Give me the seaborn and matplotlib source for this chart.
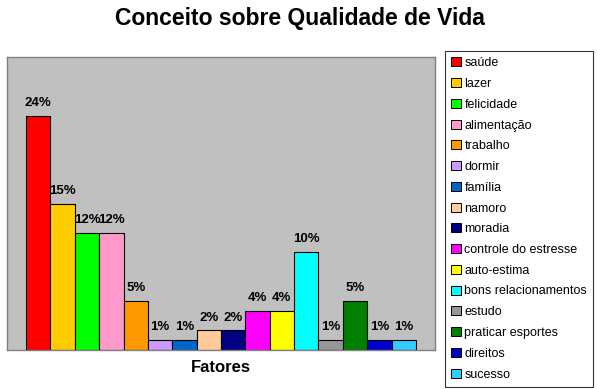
import matplotlib
matplotlib.use("Agg")
import matplotlib.pyplot as plt
from matplotlib.patches import Patch
import seaborn as sns
import pandas as pd

fatores = ["saúde", "lazer", "felicidade", "alimentação", "trabalho", "dormir",
           "família", "namoro", "moradia", "controle do estresse", "auto-estima",
           "bons relacionamentos", "estudo", "praticar esportes", "direitos", "sucesso"]
valores = [24, 15, 12, 12, 5, 1, 1, 2, 2, 4, 4, 10, 1, 5, 1, 1]
cores = ["#FF0000", "#FFCC00", "#00FF00", "#FF99CC", "#FF9900", "#CC99FF",
         "#0066CC", "#FFCC99", "#000080", "#FF00FF", "#FFFF00", "#00FFFF",
         "#969696", "#008000", "#0000CC", "#33CCFF"]

df = pd.DataFrame({"fator": fatores, "valor": valores})

sns.set_theme(style="white")
plt.rcParams['font.family'] = ['Liberation Sans', 'DejaVu Sans']

fig = plt.figure(figsize=(5.97, 3.89), dpi=100)
ax = fig.add_axes([7/597, 1 - 350/389, (435 - 7)/597, (350 - 57)/389])

sns.barplot(data=df, x="fator", y="valor", hue="fator", palette=cores,
            hue_order=fatores, order=fatores, dodge=False, width=1.0,
            saturation=1, edgecolor="black", linewidth=0.8, legend=False, ax=ax)

for cont, v in zip(ax.containers, valores):
    ax.bar_label(cont, labels=[f"{v}%"], padding=5, fontsize=9.5,
                 fontweight="bold", color="black")

ax.set_facecolor("#C0C0C0")
ax.set_xlim(-1.28, 16.28)
ax.set_ylim(0, 30)
ax.set_xticks([])
ax.set_yticks([])
ax.set_ylabel("")
ax.set_xlabel("Fatores", fontsize=12, fontweight="bold", labelpad=7, color="black")
for s in ax.spines.values():
    s.set_color("#808080")
    s.set_linewidth(1.0)

fig.text(0.503, 0.952, "Conceito sobre Qualidade de Vida", ha="center", va="center",
         fontsize=16.5, fontweight="bold", color="black")

handles = [Patch(facecolor=c, edgecolor="black", linewidth=0.7) for c in cores]
leg = fig.legend(handles, fatores, loc="upper left",
                 bbox_to_anchor=(445/597, 1 - 51/389), fontsize=9,
                 frameon=True, fancybox=False, edgecolor="black",
                 handlelength=0.75, handleheight=0.75, handletextpad=0.3,
                 labelspacing=0.70, borderpad=0.5, borderaxespad=0)
leg.get_frame().set_linewidth(0.8)
for t in leg.get_texts():
    t.set_color("black")

fig.savefig("out.png", dpi=100, facecolor="white")
